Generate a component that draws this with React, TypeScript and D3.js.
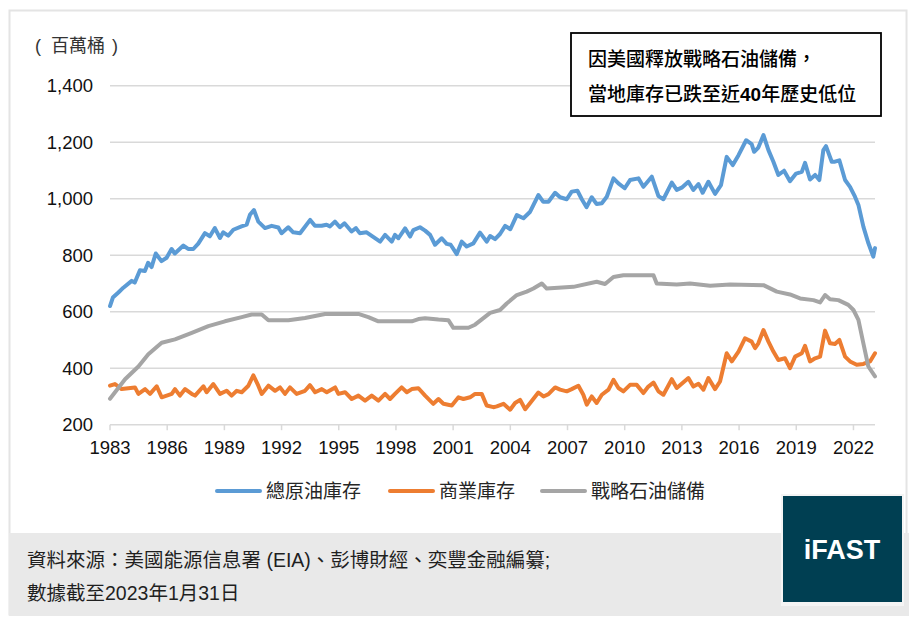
import React from "react";
import * as d3 from "d3";

// [decimal year, million barrels]
const totalStocks: [number, number][] = [
  [1983.0, 620], [1983.15, 650], [1983.44, 668], [1983.7, 685], [1984.14, 709], [1984.3, 703],
  [1984.57, 747], [1984.83, 744], [1985.0, 773], [1985.18, 758], [1985.4, 806], [1985.7, 779],
  [1985.97, 791], [1986.23, 822], [1986.4, 806], [1986.85, 834], [1987.1, 822], [1987.37, 822],
  [1987.63, 841], [1987.98, 878], [1988.24, 867], [1988.5, 896], [1988.77, 861], [1988.94, 881],
  [1989.2, 869], [1989.47, 890], [1989.9, 902], [1990.17, 908], [1990.34, 943], [1990.55, 960],
  [1990.78, 919], [1991.13, 896], [1991.48, 904], [1991.83, 898], [1992.0, 878], [1992.35, 899],
  [1992.61, 881], [1992.97, 878], [1993.5, 925], [1993.75, 904], [1994.1, 904], [1994.36, 908],
  [1994.54, 902], [1994.8, 919], [1995.06, 899], [1995.3, 913], [1995.67, 884], [1995.9, 896],
  [1996.1, 878], [1996.46, 881], [1997.17, 848], [1997.43, 872], [1997.78, 848], [1997.95, 872],
  [1998.13, 860], [1998.48, 895], [1998.74, 866], [1998.91, 889], [1999.26, 899], [1999.53, 887],
  [1999.79, 872], [2000.05, 837], [2000.4, 860], [2000.66, 840], [2000.87, 837], [2001.19, 804],
  [2001.45, 848], [2001.71, 831], [2002.06, 842], [2002.41, 880], [2002.76, 848], [2002.94, 868],
  [2003.2, 857], [2003.46, 875], [2003.73, 904], [2004.0, 892], [2004.34, 942], [2004.69, 931],
  [2005.04, 954], [2005.47, 1013], [2005.73, 989], [2006.0, 989], [2006.35, 1021], [2006.61, 1005],
  [2006.96, 998], [2007.22, 1025], [2007.52, 1028], [2007.75, 998], [2008.0, 970], [2008.27, 1005],
  [2008.53, 981], [2008.8, 984], [2009.06, 1007], [2009.41, 1072], [2009.67, 1054], [2010.0, 1037],
  [2010.28, 1066], [2010.72, 1072], [2010.98, 1042], [2011.42, 1078], [2011.77, 1009], [2012.03, 998],
  [2012.47, 1057], [2012.73, 1031], [2012.99, 1039], [2013.34, 1060], [2013.6, 1031], [2013.87, 1052],
  [2014.09, 1021], [2014.39, 1060], [2014.74, 1017], [2015.05, 1048], [2015.35, 1148], [2015.67, 1119],
  [2015.97, 1154], [2016.37, 1207], [2016.66, 1193], [2016.79, 1166], [2017.01, 1181], [2017.28, 1225],
  [2017.54, 1172], [2017.8, 1131], [2018.06, 1084], [2018.36, 1099], [2018.67, 1062], [2018.99, 1089],
  [2019.29, 1095], [2019.46, 1127], [2019.72, 1068], [2019.99, 1084], [2020.21, 1066], [2020.42, 1172],
  [2020.56, 1186], [2020.86, 1131], [2021.03, 1131], [2021.26, 1136], [2021.56, 1066], [2021.82, 1042],
  [2022.08, 1007], [2022.26, 978], [2022.52, 901], [2022.78, 843], [2023.04, 795], [2023.13, 825],
];

const commercialStocks: [number, number][] = [
  [1983.0, 338], [1983.26, 344], [1983.61, 326], [1984.31, 332], [1984.49, 309], [1984.84, 326],
  [1985.1, 309], [1985.45, 336], [1985.71, 297], [1986.24, 309], [1986.41, 326], [1986.67, 303],
  [1986.94, 326], [1987.29, 309], [1987.46, 303], [1987.9, 336], [1988.07, 315], [1988.42, 344],
  [1988.77, 309], [1989.12, 320], [1989.38, 303], [1989.65, 320], [1989.91, 315], [1990.26, 338],
  [1990.52, 375], [1990.78, 338], [1990.96, 309], [1991.31, 338], [1991.66, 320], [1991.92, 332],
  [1992.18, 309], [1992.44, 332], [1992.79, 309], [1993.23, 320], [1993.49, 340], [1993.76, 315],
  [1994.11, 326], [1994.37, 315], [1994.81, 332], [1994.98, 309], [1995.33, 315], [1995.68, 291],
  [1996.03, 303], [1996.38, 285], [1996.73, 303], [1997.08, 285], [1997.43, 309], [1997.69, 291],
  [1997.95, 309], [1998.3, 332], [1998.57, 315], [1998.83, 326], [1999.18, 329], [1999.53, 303],
  [1999.96, 274], [2000.23, 291], [2000.49, 274], [2000.93, 268], [2001.28, 297], [2001.54, 291],
  [2001.89, 297], [2002.15, 309], [2002.5, 309], [2002.76, 268], [2003.11, 262], [2003.29, 265],
  [2003.64, 274], [2003.99, 253], [2004.25, 277], [2004.51, 288], [2004.78, 255], [2005.04, 277],
  [2005.47, 314], [2005.74, 300], [2006.0, 308], [2006.35, 332], [2006.61, 324], [2006.96, 318],
  [2007.22, 326], [2007.57, 338], [2007.83, 306], [2008.01, 271], [2008.27, 300], [2008.53, 277],
  [2008.8, 306], [2009.15, 324], [2009.41, 359], [2009.67, 330], [2009.93, 318], [2010.28, 341],
  [2010.63, 341], [2010.98, 312], [2011.24, 335], [2011.51, 349], [2011.77, 318], [2012.03, 306],
  [2012.47, 361], [2012.73, 330], [2012.99, 345], [2013.34, 365], [2013.6, 335], [2013.87, 345],
  [2014.13, 324], [2014.39, 365], [2014.74, 326], [2015.0, 353], [2015.35, 453], [2015.62, 424],
  [2015.97, 459], [2016.31, 506], [2016.66, 494], [2016.84, 471], [2017.01, 488], [2017.28, 535],
  [2017.54, 494], [2017.8, 459], [2018.06, 429], [2018.41, 435], [2018.67, 400], [2018.94, 441],
  [2019.29, 453], [2019.46, 479], [2019.72, 424], [2019.99, 435], [2020.25, 441], [2020.51, 533],
  [2020.77, 488], [2021.03, 486], [2021.26, 500], [2021.56, 441], [2021.82, 424], [2022.17, 412],
  [2022.52, 415], [2022.87, 424], [2023.13, 453],
];

const sprStocks: [number, number][] = [
  [1983.0, 292], [1983.79, 361], [1984.49, 406], [1985.01, 449], [1985.71, 490], [1986.41, 502],
  [1987.29, 525], [1988.16, 549], [1989.03, 566], [1989.91, 581], [1990.43, 590], [1990.96, 590],
  [1991.31, 570], [1992.36, 570], [1993.23, 578], [1994.28, 592], [1996.03, 592], [1996.55, 581],
  [1997.08, 566], [1998.83, 566], [1999.18, 574], [1999.53, 577], [2000.23, 572], [2000.75, 570],
  [2001.01, 543], [2001.8, 543], [2002.15, 554], [2002.94, 596], [2003.46, 606], [2003.81, 629],
  [2004.34, 659], [2004.86, 671], [2005.21, 682], [2005.65, 700], [2005.91, 682], [2007.31, 688],
  [2008.53, 706], [2008.97, 698], [2009.41, 723], [2009.93, 729], [2011.51, 729], [2011.68, 700],
  [2012.73, 696], [2013.43, 700], [2014.48, 692], [2015.53, 696], [2017.28, 694], [2017.98, 671],
  [2018.67, 661], [2019.2, 647], [2019.9, 641], [2020.25, 633], [2020.51, 659], [2020.77, 644],
  [2021.21, 641], [2021.73, 624], [2022.0, 606], [2022.26, 571], [2022.52, 488], [2022.78, 406],
  [2023.13, 371],
];

const yTicks = [200, 400, 600, 800, 1000, 1200, 1400];
const xTickYears = [1983, 1986, 1989, 1992, 1995, 1998, 2001, 2004, 2007, 2010, 2013, 2016, 2019, 2022];

const seriesNames = ["總原油庫存", "商業庫存", "戰略石油儲備"];
const seriesColors = ["#5b9bd5", "#ed7d31", "#a5a5a5"];

const LATIN = "'Liberation Sans', Arial, 'Noto Sans CJK TC', sans-serif";

export default function App() {
  const x = d3.scaleLinear().domain([1983, 2023.13]).range([110, 875]);
  const y = d3.scaleLinear().domain([200, 1400]).range([424.7, 85.7]);

  const line = d3
    .line<[number, number]>()
    .x(d => x(d[0]))
    .y(d => y(d[1]));

  const allSeries = [totalStocks, commercialStocks, sprStocks];
  const legendX = [217, 390, 542];

  return (
    <svg
      width={914}
      height={624}
      style={{ position: "absolute", left: 0, top: 0, background: "#fff" }}
      fontFamily={LATIN}
    >
      {/* frame + footer band */}
      <rect x={9.5} y={10.5} width={897} height={604} fill="#fff" stroke="#e4e4e4" strokeWidth={2} />
      <rect x={9} y={533} width={900} height={83} fill="#e9e9e9" />

      <text y={52} fontSize={18} fill="#333">
        <tspan x={35}>(</tspan>
        <tspan x={51}>百萬桶</tspan>
        <tspan x={112}>)</tspan>
      </text>

      {/* grid */}
      {yTicks.map(t => (
        <line key={t} x1={110} x2={875} y1={y(t)} y2={y(t)} stroke="#d9d9d9" strokeWidth={1.5} />
      ))}
      {yTicks.map(t => (
        <text key={"l" + t} x={93} y={y(t)} dy="0.36em" textAnchor="end" fontSize={18.5} fill="#111">
          {d3.format(",")(t)}
        </text>
      ))}

      {xTickYears.map(yr => (
        <g key={yr}>
          <line x1={x(yr)} x2={x(yr)} y1={y(200)} y2={y(200) + 5.5} stroke="#d9d9d9" strokeWidth={1.5} />
          <text x={x(yr)} y={454} textAnchor="middle" fontSize={18.5} fill="#111">{yr}</text>
        </g>
      ))}

      {allSeries.map((s, i) => (
        <path
          key={i}
          d={line(s) || ""}
          fill="none"
          stroke={seriesColors[i]}
          strokeWidth={4}
          strokeLinejoin="round"
          strokeLinecap="round"
        />
      ))}

      {/* legend */}
      {seriesNames.map((n, i) => (
        <g key={n}>
          <line x1={legendX[i]} x2={legendX[i] + 43} y1={491} y2={491} stroke={seriesColors[i]} strokeWidth={4} strokeLinecap="round" />
          <text x={legendX[i] + 49} y={491} dy="0.36em" fontSize={19} fill="#262626">{n}</text>
        </g>
      ))}

      {/* annotation */}
      <rect x={571} y={33} width={310} height={83} fill="#fff" stroke="#000" strokeWidth={1.8} />
      <text x={588} y={66} fontSize={19} fontWeight={500} fill="#000">因美國釋放戰略石油儲備，</text>
      <text x={588} y={100.5} fontSize={19} fontWeight={500} fill="#000">
        當地庫存已跌至近<tspan fontWeight="bold">40</tspan>年歷史低位
      </text>

      {/* footer */}
      <text x={27} y={567} fontSize={19.5} fill="#1f1f1f">資料來源：美國能源信息署 (EIA)、彭博財經、奕豐金融編纂;</text>
      <text x={27} y={600} fontSize={19.5} fill="#1f1f1f">數據截至2023年1月31日</text>

      {/* logo */}
      <rect x={781} y={494} width={123} height={112} fill="#f4f4f4" />
      <rect x={783} y={496} width={119} height={106} fill="#003f52" />
      <text x={842} y={559} textAnchor="middle" fontSize={27} fontWeight="bold" fill="#fff">iFAST</text>
    </svg>
  );
}
